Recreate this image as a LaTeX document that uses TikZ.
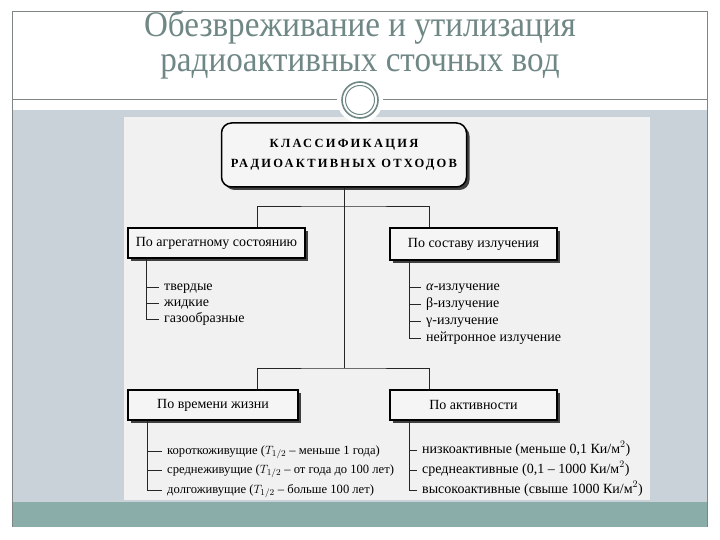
\documentclass[tikz,border=0pt]{standalone}
\usepackage{fontspec}
\setmainfont{Liberation Serif}
\newfontfamily\slidefont[FakeStretch=0.92]{Liberation Serif}
\newfontfamily\capsfont[LetterSpace=18]{Liberation Serif}
\usetikzlibrary{positioning,shadows,calc}
\definecolor{slideink}{HTML}{6F8785}
\definecolor{framegray}{HTML}{7F8585}
\definecolor{paleblue}{HTML}{C8D2D8}
\definecolor{tealband}{HTML}{8BADAA}
\definecolor{panel}{HTML}{F1F1F1}
\definecolor{boxfill}{HTML}{F5F5F5}
\tikzset{
  slidetitle/.style={font=\slidefont\fontsize{36}{35}\selectfont, text=slideink, align=center},
  topbox/.style={draw=black, line width=1.5pt, rounded corners=10pt, fill=boxfill, minimum width=245pt, minimum height=64pt, align=center, font=\capsfont\bfseries\fontsize{12.5}{20}\selectfont, drop shadow={shadow xshift=3pt, shadow yshift=-3pt, fill=black!75, opacity=1}},
  classbox/.style={draw=black, line width=1.1pt, fill=boxfill, minimum height=30pt, align=center, font=\fontsize{14}{16}\selectfont, drop shadow={shadow xshift=3pt, shadow yshift=-3pt, fill=black!75, opacity=1}},
  item/.style={anchor=west, inner xsep=5pt, inner ysep=1pt, text height=9pt, text depth=3pt, font=\fontsize{14}{15}\selectfont},
  smallitem/.style={item, font=\fontsize{12.6}{14}\selectfont},
  tree/.style={draw=black!85, line width=0.9pt}
}
\begin{document}
\begin{tikzpicture}[x=1pt,y=-1pt]
\useasboundingbox (0,0) rectangle (720,540);
% slide background
\fill[white] (0,0) rectangle (720,540);
\fill[paleblue] (12,110) rectangle (707,502);
\fill[tealband] (12,502) rectangle (707,527);
\draw[framegray, line width=1pt] (12,527) |- (707,12) -- (707,527);
\draw[framegray, line width=1pt] (12,100) -- (707,100);
\fill[panel] (124,117) rectangle (650,500);
% ornament
\fill[white] (360,100) circle (23);
\draw[slideink, line width=1.6pt] (360,100) circle (18);
\draw[slideink, line width=1pt] (360,100) circle (14.5);
\node[slidetitle] (head) at (360,45) {Обезвреживание и утилизация\\радиоактивных сточных вод};
% classification
\node[topbox] (klass) at (344,155) {КЛАССИФИКАЦИЯ\\РАДИОАКТИВНЫХ ОТХОДОВ};
\node[classbox, minimum width=177pt] (agg) at (216.5,243) {По агрегатному состоянию};
\node[classbox, minimum width=167pt, minimum height=32pt] (sost) at (473.5,244) {По составу излучения};
\node[classbox, minimum width=170pt] (life) at (213,405) {По времени жизни};
\node[classbox, minimum width=167pt] (act) at (473.5,405) {По активности};
\coordinate (jtop) at (344,206);
\coordinate (jbot) at (344,368);
\draw[tree] (klass.south) -- (jbot);
\draw[tree] ([xshift=130pt]agg.north west) |- (jtop) -| ([xshift=40pt]sost.north west);
\draw[tree] ([xshift=130pt]life.north west) |- (jbot) -| ([xshift=40pt]act.north west);
% lists
\node[item] (a1) at (159,287) {твердые};
\node[item] (a2) at (159,303) {жидкие};
\node[item] (a3) at (159,319) {газообразные};
\node[item] (s1) at (421,287) {\textit{α}-излучение};
\node[item] (s2) at (421,304) {β-излучение};
\node[item] (s3) at (421,321) {γ-излучение};
\node[item] (s4) at (421,338) {нейтронное излучение};
\node[smallitem] (l1) at (162,451) {короткоживущие ($T_{1/2}$ – меньше 1 года)};
\node[smallitem] (l2) at (162,470) {среднеживущие ($T_{1/2}$ – от года до 100 лет)};
\node[smallitem] (l3) at (162,490) {долгоживущие ($T_{1/2}$ – больше 100 лет)};
\node[item] (v1) at (417,450) {низкоактивные (меньше 0,1 Ки/м$^2$)};
\node[item] (v2) at (417,470) {среднеактивные (0,1 – 1000 Ки/м$^2$)};
\node[item] (v3) at (417,490) {высокоактивные (свыше 1000 Ки/м$^2$)};
\foreach \i in {a1,a2,a3} \draw[tree] ([xshift=19pt]agg.south west) |- (\i.west);
\foreach \i in {s1,s2,s3,s4} \draw[tree] ([xshift=20pt]sost.south west) |- (\i.west);
\foreach \i in {l1,l2,l3} \draw[tree] ([xshift=20pt]life.south west) |- (\i.west);
\foreach \i in {v1,v2,v3} \draw[tree] ([xshift=20pt]act.south west) |- (\i.west);
\end{tikzpicture}
\end{document}
